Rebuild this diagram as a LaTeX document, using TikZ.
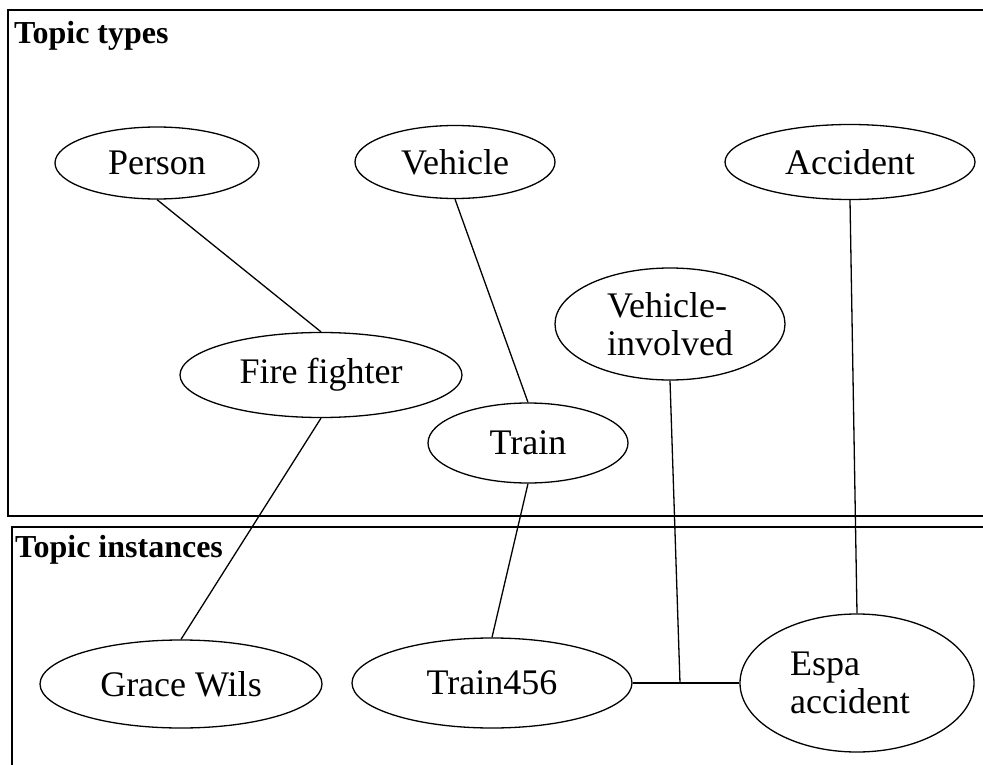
\documentclass[tikz,border=0pt]{standalone}
\usepackage{fontspec}
\setmainfont{Liberation Serif}
\usetikzlibrary{shapes.geometric}

\tikzset{
  topic/.style={draw, ellipse, line width=1.3pt, inner sep=0pt,
    font=\fontsize{36}{38}\selectfont},
  panel/.style={draw, line width=1.7pt},
  panellabel/.style={anchor=north west, inner sep=0pt,
    font=\fontsize{32}{34}\selectfont\bfseries},
  link/.style={draw, line width=1.3pt}
}

\begin{document}
\begin{tikzpicture}[x=1pt, y=-1pt]
\useasboundingbox (0,0) rectangle (983,765);

% the two panels, open to the right and below
\draw[panel] (995,10) -- (8,10) -- (8,516) -- (995,516);
\draw[panel] (995,527) -- (12,527) -- (12,775);
\node[panellabel] (typeslabel) at (14,21) {Topic types};
\node[panellabel] (instlabel) at (15,535) {Topic instances};

% topic types
\node[topic, minimum width=204pt, minimum height=72pt] (person) at (157,163) {Person};
\node[topic, minimum width=200pt, minimum height=73pt] (vehicle) at (455,162) {Vehicle};
\node[topic, minimum width=250pt, minimum height=75pt] (accident) at (850,162) {Accident};
\node[topic, minimum width=230pt, minimum height=112pt, align=left] (involved) at (670,324) {Vehicle-\\involved};
\node[topic, minimum width=282pt, minimum height=85pt] (firefighter) at (321,375) {Fire fighter};
\node[topic, minimum width=200pt, minimum height=80pt] (train) at (528,443) {Train};

% topic instances
\node[topic, minimum width=282pt, minimum height=88pt] (grace) at (181,684) {Grace Wils};
\node[topic, minimum width=280pt, minimum height=90pt] (train456) at (492,683) {Train456};
\node[topic, minimum width=234pt, minimum height=138pt, align=left] (espa) at (857,683) {Espa\\accident\hspace*{14pt}};

% type links
\draw[link] (person.south) -- (firefighter.north);
\draw[link] (vehicle.south) -- (train.north);
\draw[link] (firefighter.south) -- (grace.north);
\draw[link] (train.south) -- (train456.north);
\draw[link] (accident.south) -- (espa.north);

% association with its role player junction
\coordinate (junction) at (680,683);
\draw[link] (train456.east) -- (espa.west);
\draw[link] (involved.south) -- (junction);
\end{tikzpicture}
\end{document}
